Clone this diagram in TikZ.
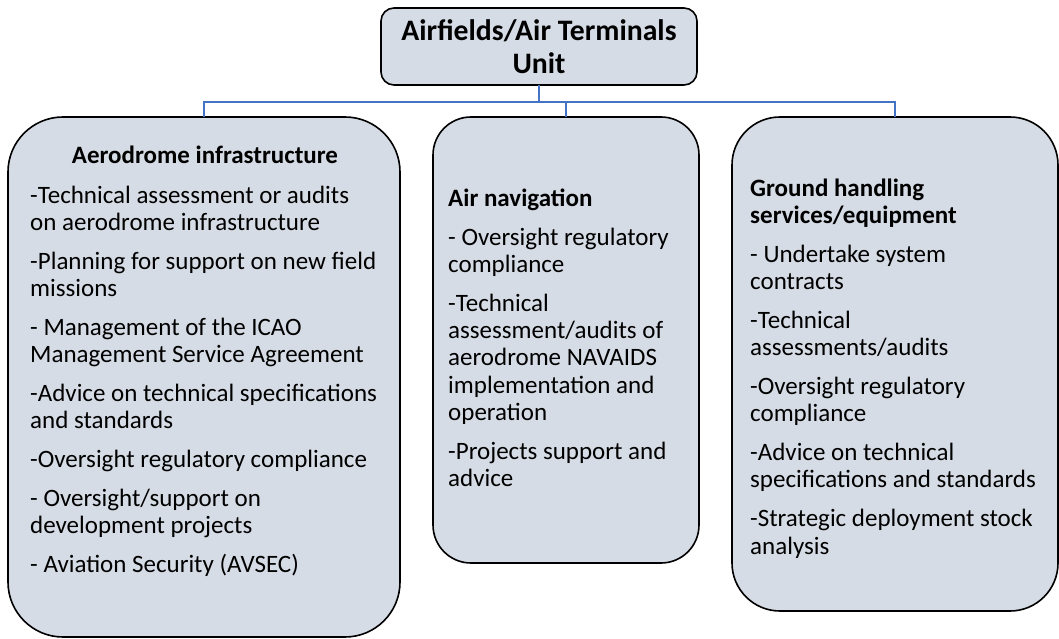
\documentclass[tikz,border=0pt]{standalone}
\usepackage{fontspec}
\setmainfont{Carlito}
\definecolor{boxfill}{HTML}{D6DCE5}
\definecolor{linkblue}{HTML}{4472C4}
\tikzset{
  unitbox/.style={draw=black, line width=1.6pt, fill=boxfill, rounded corners=#1,
    inner sep=0pt, outer sep=0pt},
  bodytext/.style={anchor=north west, inner sep=0pt, align=left,
    font=\fontsize{25}{27.3}\selectfont},
  headtext/.style={anchor=base, inner sep=0pt,
    font=\fontsize{25}{27.3}\selectfont\bfseries},
  link/.style={draw=linkblue, line width=1.8pt}
}
\newcommand{\firstline}{\rule{0pt}{20pt}}
\newcommand{\pgap}{\\[11.5pt]}
\begin{document}
\begin{tikzpicture}[x=1pt, y=-1pt]
\useasboundingbox (0,0) rectangle (1059,639);

% top unit
\node[unitbox=13pt, minimum width=316pt, minimum height=77pt, align=center,
      font=\fontsize{29.7}{33}\selectfont\bfseries] (unit) at (539,46.5)
  {Airfields/Air Terminals\\Unit};

% the three sections
\node[unitbox=55pt, minimum width=392pt, minimum height=520pt] (aero) at (204,377) {};
\node[unitbox=38pt, minimum width=266pt, minimum height=446pt] (nav) at (566,340) {};
\node[unitbox=48pt, minimum width=326pt, minimum height=494pt] (ground) at (895,364) {};

% connectors
\coordinate (busy) at (0,102);
\draw[link] (aero.north) -- (aero.north |- busy) -| (ground.north);
\draw[link] (unit.south) -- (unit.south |- busy);
\draw[link] (nav.north) -- (nav.north |- busy);

% section texts
\node[headtext] (aerohead) at (205,164) {Aerodrome infrastructure};
\node[bodytext] (aerobody) at (30,183) {\firstline-Technical assessment or audits\\
  on aerodrome infrastructure\pgap
  -Planning for support on new field\\
  missions\pgap
  - Management of the ICAO\\
  Management Service Agreement\pgap
  -Advice on technical specifications\\
  and standards\pgap
  -Oversight regulatory compliance\pgap
  - Oversight/support on\\
  development projects\pgap
  - Aviation Security (AVSEC)};

\node[bodytext] (navbody) at (448,186) {\firstline\textbf{Air navigation}\pgap
  - Oversight regulatory\\
  compliance\pgap
  -Technical\\
  assessment/audits of\\
  aerodrome NAVAIDS\\
  implementation and\\
  operation\pgap
  -Projects support and\\
  advice};

\node[bodytext] (groundbody) at (750,176) {\firstline\textbf{Ground handling}\\
  \textbf{services/equipment}\pgap
  - Undertake system\\
  contracts\pgap
  -Technical\\
  assessments/audits\pgap
  -Oversight regulatory\\
  compliance\pgap
  -Advice on technical\\
  specifications and standards\pgap
  -Strategic deployment stock\\
  analysis};
\end{tikzpicture}
\end{document}
